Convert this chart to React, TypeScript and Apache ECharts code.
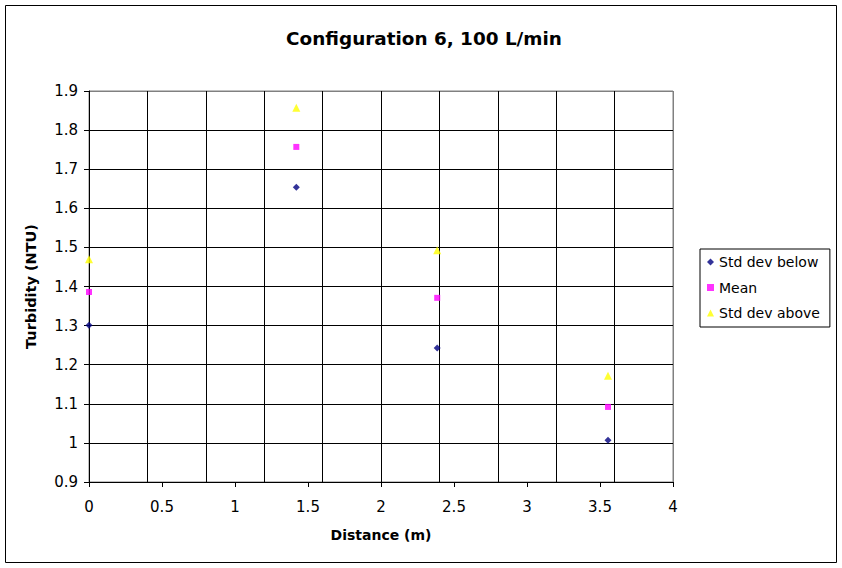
import React, { useEffect, useRef } from "react";
import * as echarts from "echarts";

const distance = [0, 1.42, 2.385, 3.555];
const stdBelow = [1.301, 1.654, 1.243, 1.007];
const meanVals = [1.386, 1.757, 1.371, 1.092];
const stdAbove = [1.47, 1.857, 1.493, 1.172];
const seriesNames = ["Std dev below", "Mean", "Std dev above"];

const FONT = "'DejaVu Sans', Arial, sans-serif";

export default function App() {
  const ref = useRef<HTMLDivElement>(null);
  useEffect(() => {
    document.body.style.margin = "0";
    const chart = echarts.init(ref.current!, null, { renderer: "svg" });
    const pair = (ys: number[]) => distance.map((x, i) => [x, ys[i]]);
    const vGridColors = Array.from({ length: 11 }, (_, i) => (i === 10 ? "#808080" : "#000000"));
    const hGridColors = Array.from({ length: 11 }, (_, i) => (i === 10 ? "#808080" : "#000000"));
    chart.setOption({
      animation: false,
      backgroundColor: "#ffffff",
      textStyle: { fontFamily: FONT },
      title: {
        text: "Configuration 6, 100 L/min",
        left: 419,
        textAlign: "center",
        top: 24,
        textStyle: { fontFamily: FONT, fontSize: 18.4, fontWeight: "bold", color: "#000" },
      },
      grid: {
        left: 89,
        right: 169,
        top: 91,
        bottom: 86,
        show: true,
        borderColor: "#808080",
        borderWidth: 1,
        backgroundColor: "#ffffff",
      },
      legend: {
        orient: "vertical",
        left: 700,
        top: 249,
        padding: [6, 10, 7, 7],
        itemGap: 11.5,
        itemWidth: 7,
        itemHeight: 7,
        borderColor: "#000",
        borderWidth: 1,
        backgroundColor: "#fff",
        textStyle: { fontFamily: FONT, fontSize: 14, color: "#000" },
        data: [
          { name: seriesNames[0], icon: "diamond" },
          { name: seriesNames[1], icon: "rect" },
          { name: seriesNames[2], icon: "triangle" },
        ],
      },
      xAxis: [
        {
          type: "value",
          min: 0,
          max: 4,
          interval: 0.5,
          name: "Distance (m)",
          nameLocation: "middle",
          nameGap: 46,
          nameTextStyle: { fontFamily: FONT, fontSize: 14, fontWeight: "bold", color: "#000" },
          axisLine: { show: true, lineStyle: { color: "#000", width: 1 } },
          axisTick: { show: true, length: 5, lineStyle: { color: "#000" } },
          axisLabel: { fontFamily: FONT, fontSize: 15, color: "#000", margin: 17 },
          splitLine: { show: false },
        },
        {
          type: "value",
          min: 0,
          max: 4,
          interval: 0.4,
          position: "bottom",
          axisLine: { show: false },
          axisTick: { show: false },
          axisLabel: { show: false },
          splitLine: { show: true, lineStyle: { color: vGridColors, width: 1 } },
        },
      ],
      yAxis: {
        type: "value",
        min: 0.9,
        max: 1.9,
        interval: 0.1,
        name: "Turbidity (NTU)",
        nameLocation: "middle",
        nameGap: 51,
        nameTextStyle: { fontFamily: FONT, fontSize: 14.5, fontWeight: "bold", color: "#000" },
        axisLine: { show: true, lineStyle: { color: "#000", width: 1 } },
        axisTick: { show: true, length: 5, lineStyle: { color: "#000" } },
        axisLabel: { fontFamily: FONT, fontSize: 15, color: "#000", margin: 11 },
        splitLine: { show: true, lineStyle: { color: hGridColors, width: 1 } },
      },
      series: [
        {
          name: seriesNames[0],
          type: "scatter",
          symbol: "diamond",
          symbolSize: 7,
          itemStyle: { color: "#000080" },
          data: pair(stdBelow),
          z: 3,
        },
        {
          name: seriesNames[1],
          type: "scatter",
          symbol: "rect",
          symbolSize: 6,
          itemStyle: { color: "#FF00FF" },
          data: pair(meanVals),
          z: 3,
        },
        {
          name: seriesNames[2],
          type: "scatter",
          symbol: "triangle",
          symbolSize: 8,
          itemStyle: { color: "#FFFF00" },
          data: pair(stdAbove),
          z: 3,
        },
      ],
      graphic: [
        {
          type: "rect",
          shape: { x: 5.5, y: 5.5, width: 831, height: 557 },
          style: { fill: "none", stroke: "#000", lineWidth: 1 },
          silent: true,
          z: 100,
        },
      ],
    });
    return () => chart.dispose();
  }, []);
  return <div ref={ref} style={{ width: 842, height: 568 }} />;
}
